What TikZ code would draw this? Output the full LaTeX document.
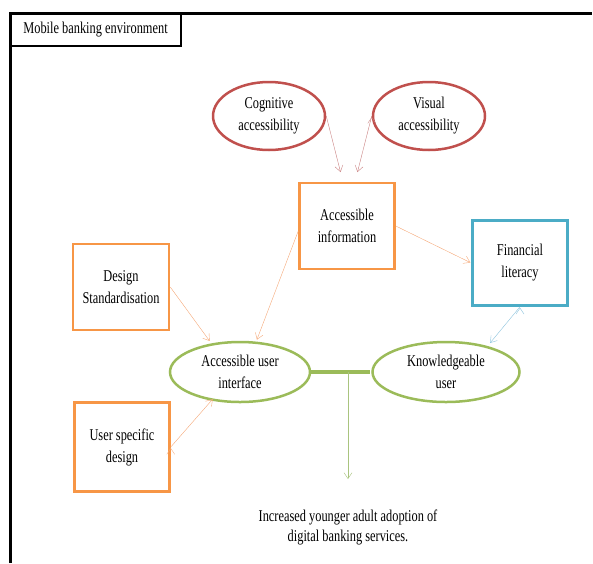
\documentclass[tikz,border=0pt]{standalone}
\usepackage{fontspec}
\setmainfont{Liberation Serif}[FakeStretch=0.75]
\usetikzlibrary{arrows.meta,shapes.geometric}
\definecolor{boxorange}{HTML}{F79646}
\definecolor{ovalred}{HTML}{C0504D}
\definecolor{ovalgreen}{HTML}{9BBB59}
\definecolor{boxteal}{HTML}{4BACC6}
\definecolor{linkorange}{HTML}{F5A878}
\definecolor{linkred}{HTML}{C98080}
\definecolor{linkblue}{HTML}{8CC3DD}
\definecolor{linkgreen}{HTML}{A9C47F}

\begin{document}
\begin{tikzpicture}[x=1pt,y=-1pt,->,>={Straight Barb[length=6pt,width=8pt]},shorten >=1pt,
  every node/.style={font=\fontsize{16.5}{22}\selectfont,align=center},
  box node/.style={rectangle,draw=boxorange,line width=2.5pt,minimum width=95pt,minimum height=86pt,inner sep=2pt},
  red oval/.style={ellipse,draw=ovalred,line width=2.5pt,minimum width=112pt,minimum height=68pt,inner sep=0pt},
  green oval/.style={ellipse,draw=ovalgreen,line width=2.5pt,minimum width=140pt,minimum height=60pt,inner sep=0pt}]

  \useasboundingbox (0,0) rectangle (593,563);
  \draw[-,line width=3pt] (10,563) -- (10,13) -- (593,13);
  \node[draw,line width=2pt,minimum width=171pt,minimum height=33pt,inner sep=0pt] (title) at (95.5,29.5) {Mobile banking environment};

  \node[red oval] (cog) at (269,116) {Cognitive\\accessibility};
  \node[red oval] (vis) at (429,116) {Visual\\accessibility};
  \node[box node] (info) at (347,226) {Accessible\\information};
  \node[box node,draw=boxteal,minimum height=85pt] (fin) at (520,263) {Financial\\literacy};
  \node[box node,minimum width=96pt] (des) at (121,287) {Design\\Standardisation};
  \node[box node,minimum height=89pt] (usd) at (122,447) {User specific\\design};
  \node[green oval] (aui) at (240,372) {Accessible user\\interface};
  \node[green oval,minimum width=147pt] (know) at (446,372) {Knowledgeable\\user};
  \node[font=\fontsize{16.5}{20}\selectfont] (out) at (348,527) {Increased younger adult adoption of\\digital banking services.};
  \coordinate (joint) at (348,372);
  \coordinate (tip) at (348,480);

  \path[draw=linkred,thin]
    (cog.east) edge[shorten >=10pt] ([xshift=-4pt]info.north)
    (vis.west) edge[shorten >=10pt] ([xshift=8pt]info.north);
  \path[draw=linkorange,thin]
    (info.east) edge (fin.west)
    ([yshift=-5pt]info.west) edge[shorten >=2pt] (aui.62)
    (des.east) edge[shorten >=3pt] (aui.135)
    (usd.east) edge[shorten >=-2pt] (aui.225);
  \path[draw=linkblue,thin]
    (fin.south) edge[shorten >=4pt] (know.32);

  \draw[-,ovalgreen,line width=4pt] (aui.east) -- (know.west);
  \draw[linkgreen,thin] (joint) -- (tip);
\end{tikzpicture}
\end{document}
